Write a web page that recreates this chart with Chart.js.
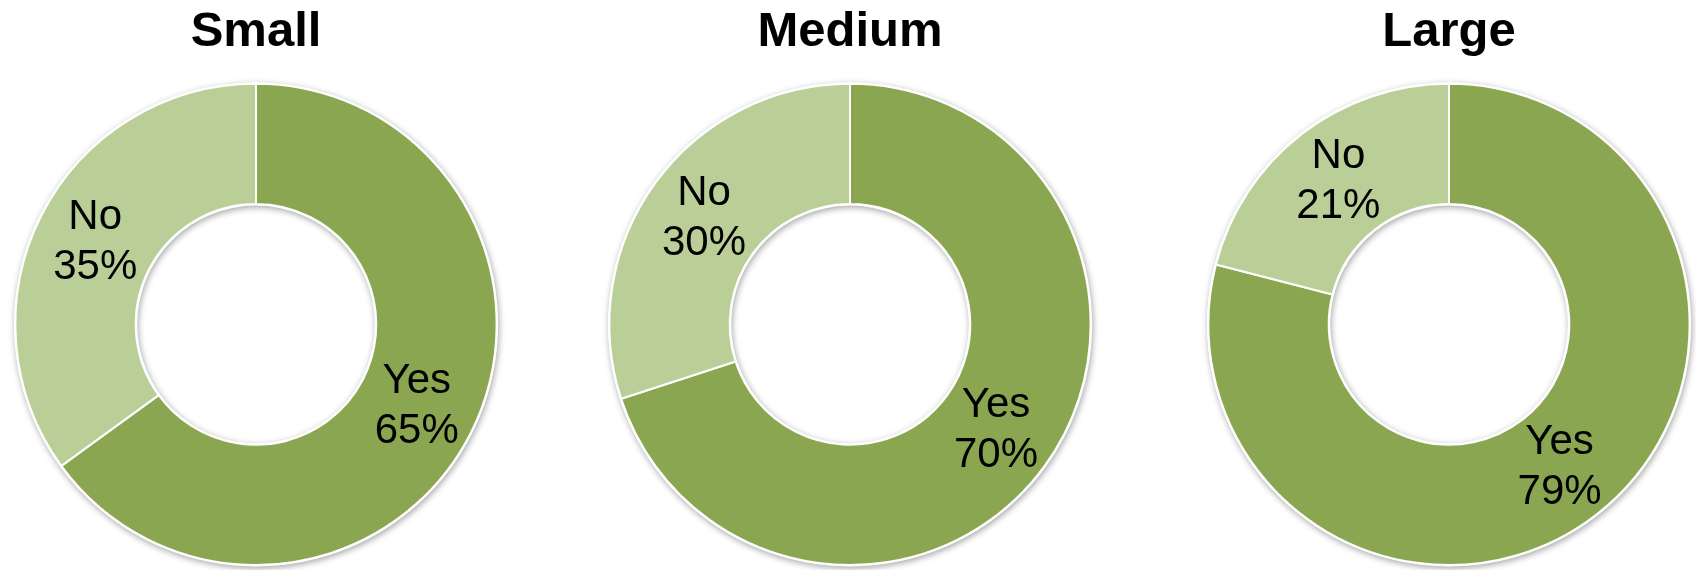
<!DOCTYPE html>
<html>
<head>
<meta charset="utf-8">
<script src="https://cdn.jsdelivr.net/npm/chart.js@4"></script>
<style>
  html, body { margin: 0; padding: 0; background: #ffffff; overflow: hidden; }
  #wrap { position: relative; width: 1696px; height: 570px; }
  .panel { position: absolute; top: 0; width: 500px; height: 570px; }
</style>
</head>
<body>
<div id="wrap">
  <div class="panel" style="left:6px"><canvas id="c0" width="500" height="570"></canvas></div>
  <div class="panel" style="left:600px"><canvas id="c1" width="500" height="570"></canvas></div>
  <div class="panel" style="left:1199px"><canvas id="c2" width="500" height="570"></canvas></div>
</div>
<script>
// Survey answers by company size
const categories = ['Yes', 'No'];
const sizeTitles = ['Small', 'Medium', 'Large'];
const yesValues = [65, 70, 79];
const noValues = [35, 30, 21];

const sliceColors = ['#8aa651', '#b9cf97'];
const fontFamily = "'Liberation Sans', Arial, sans-serif";

// Soft drop shadow under the whole ring, drawn before the slices
const ringShadow = {
  id: 'ringShadow',
  beforeDatasetsDraw(chart) {
    const arc = chart.getDatasetMeta(0).data[0];
    if (!arc) return;
    const { x, y, innerRadius, outerRadius } = arc.getProps(['x', 'y', 'innerRadius', 'outerRadius'], true);
    const ctx = chart.ctx;
    ctx.save();
    ctx.shadowColor = 'rgba(0,0,0,0.35)';
    ctx.shadowBlur = 6;
    ctx.shadowOffsetX = 1;
    ctx.shadowOffsetY = 2;
    ctx.fillStyle = '#ffffff';
    ctx.beginPath();
    ctx.arc(x, y, outerRadius + 1.5, 0, Math.PI * 2);
    ctx.arc(x, y, Math.max(innerRadius - 1.5, 0), 0, Math.PI * 2, true);
    ctx.fill('evenodd');
    ctx.restore();
  }
};

// Category name and percentage written inside each slice
const sliceLabels = {
  id: 'sliceLabels',
  afterDatasetsDraw(chart) {
    const ctx = chart.ctx;
    const ds = chart.data.datasets[0];
    const meta = chart.getDatasetMeta(0);
    ctx.save();
    ctx.font = '42px ' + fontFamily;
    ctx.fillStyle = '#000000';
    ctx.textAlign = 'center';
    ctx.textBaseline = 'middle';
    meta.data.forEach((arc, i) => {
      const p = arc.tooltipPosition(true);
      ctx.fillText(chart.data.labels[i], p.x, p.y - 25);
      ctx.fillText(ds.data[i] + '%', p.x, p.y + 25);
    });
    ctx.restore();
  }
};

sizeTitles.forEach((title, i) => {
  new Chart(document.getElementById('c' + i), {
    type: 'doughnut',
    data: {
      labels: categories,
      datasets: [{
        data: [yesValues[i], noValues[i]],
        backgroundColor: sliceColors,
        borderColor: '#ffffff',
        borderWidth: 2
      }]
    },
    options: {
      responsive: false,
      animation: false,
      cutout: '50%',
      layout: { padding: { bottom: 4 } },
      plugins: {
        legend: { display: false },
        tooltip: { enabled: false },
        title: {
          display: true,
          text: title,
          color: '#000000',
          font: { family: fontFamily, size: 49, weight: 'bold' },
          padding: { top: 3, bottom: 21 }
        }
      }
    },
    plugins: [ringShadow, sliceLabels]
  });
});
</script>
</body>
</html>
